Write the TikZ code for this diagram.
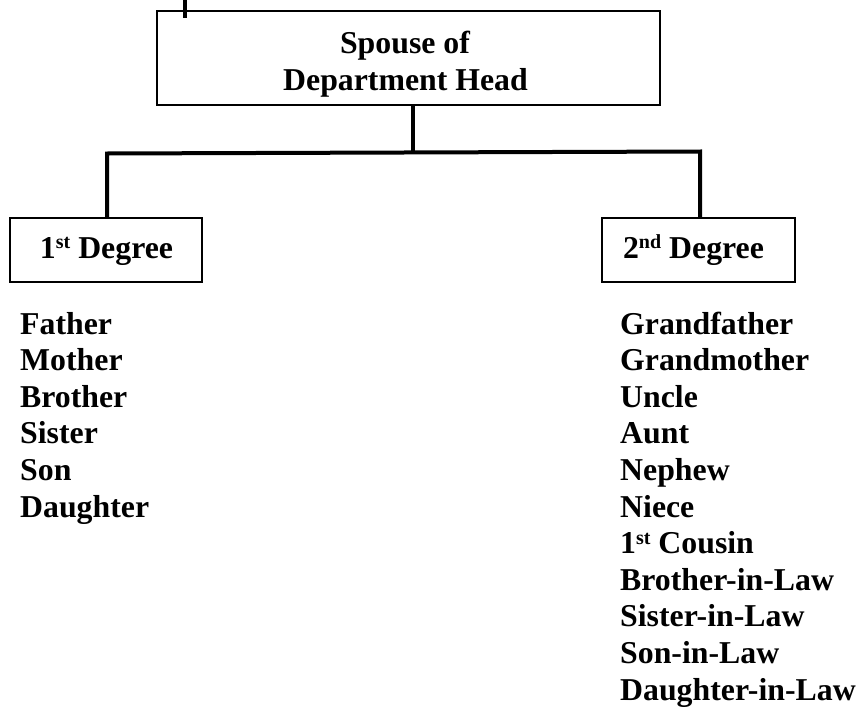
\documentclass[tikz,border=0pt]{standalone}
\usepackage{fontspec}
\setmainfont{Liberation Serif}
\newcommand\supr[1]{\raisebox{9.5pt}{\fontsize{20}{20}\selectfont #1}}
\begin{document}
\begin{tikzpicture}[x=1pt,y=-1pt,
  box/.style={draw, line width=2pt, inner sep=0pt},
  conn/.style={line width=4pt},
  lbl/.style={font=\fontsize{31.8}{36.6}\selectfont\bfseries, inner sep=0pt, anchor=base west}]
\useasboundingbox (0,0) rectangle (860,715);
% top box
\node[box, minimum width=503, minimum height=94] (top) at (408.5,58) {};
\node[lbl, anchor=base] (t1) at (405,53) {Spouse of};
\node[lbl, anchor=base] (t2) at (405.5,90) {Department Head};
\coordinate (stub) at (185,0);
\coordinate (stubend) at (185,18);
\draw[conn] (stub) -- (stubend);
% degree boxes
\node[box, minimum width=192, minimum height=64] (b1) at (106,250) {};
\node[box, minimum width=193, minimum height=64] (b2) at (698.5,250) {};
\node[lbl, anchor=base] (d1) at (106.5,258) {1\supr{st} Degree};
\node[lbl, anchor=base] (d2) at (693.5,258) {2\supr{nd} Degree};
% connectors
\coordinate (j) at (413,152.5);
\coordinate (bl) at (107,153.5);
\coordinate (br) at (700,151.5);
\draw[conn] (j |- top.south) -- (j);
\draw[conn, line join=miter] (bl |- b1.north) -- (bl) -- (br) -- (br |- b2.north);
% lists
\foreach [count=\i] \t in {Father,Mother,Brother,Sister,Son,Daughter}
  \node[lbl] (L\i) at (20,{334+36.6*(\i-1)}) {\t};
\foreach [count=\i] \t in {Grandfather,Grandmother,Uncle,Aunt,Nephew,Niece,{1\supr{st} Cousin},Brother-in-Law,Sister-in-Law,Son-in-Law,Daughter-in-Law}
  \node[lbl] (R\i) at (620,{334+36.6*(\i-1)}) {\t};
\end{tikzpicture}
\end{document}
